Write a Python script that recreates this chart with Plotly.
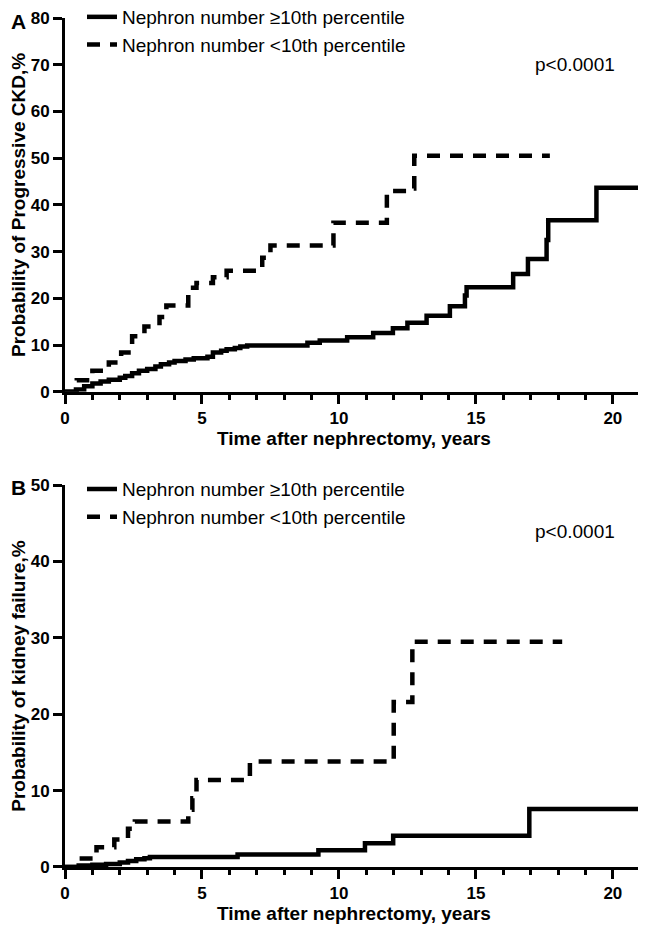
import plotly.graph_objects as go

# ---------------- data ----------------
series_names = ["Nephron number \u226510th percentile", "Nephron number <10th percentile"]

# Panel A: progressive CKD
A_hi_t = [0, 0.4, 0.7, 1.0, 1.3, 1.6, 2.0, 2.2, 2.45, 2.7, 3.0, 3.3, 3.5, 3.8, 4.0, 4.4, 4.7,
          5.2, 5.4, 5.7, 5.9, 6.2, 6.4, 6.65, 8.85, 9.3, 10.3, 11.25, 11.97, 12.5, 13.2, 14.05,
          14.6, 14.66, 16.36, 16.9, 17.58, 17.64, 19.4, 21.1]
A_hi_v = [0, 0.5, 1.2, 1.8, 2.2, 2.6, 3.0, 3.4, 4.0, 4.5, 4.9, 5.4, 5.9, 6.3, 6.6, 6.9, 7.2,
          7.5, 8.4, 8.8, 9.1, 9.4, 9.7, 9.9, 10.5, 11.0, 11.7, 12.6, 13.6, 14.8, 16.3, 18.3,
          20.6, 22.4, 25.2, 28.4, 32.5, 36.7, 43.7, 43.7]
A_lo_t = [0, 0.43, 1.0, 1.6, 2.05, 2.45, 2.9, 3.45, 3.7, 4.5, 4.8, 5.4, 5.9, 7.2, 7.5, 9.8,
          11.75, 12.5, 12.75, 17.7]
A_lo_v = [0, 2.5, 4.5, 6.3, 8.4, 11.9, 14.0, 16.0, 18.5, 22.3, 23.3, 24.5, 25.9, 28.7, 31.3,
          36.2, 43.0, 43.5, 50.5, 50.5]

# Panel B: kidney failure
B_hi_t = [0, 0.5, 1.0, 1.5, 2.0, 2.3, 2.6, 2.9, 3.1, 6.3, 9.25, 10.95, 11.98, 16.95, 21.1]
B_hi_v = [0, 0.2, 0.3, 0.4, 0.6, 0.8, 1.0, 1.15, 1.3, 1.65, 2.2, 3.1, 4.1, 7.6, 7.6]
B_lo_t = [0, 0.45, 1.15, 1.8, 2.3, 2.55, 4.5, 4.65, 4.8, 6.75, 12.0, 12.68, 18.15]
B_lo_v = [0, 1.1, 2.6, 3.6, 5.0, 5.95, 7.5, 9.0, 11.4, 13.8, 21.6, 29.5, 29.5]

x_ticks = [0, 5, 10, 15, 20]
yA_ticks = [0, 10, 20, 30, 40, 50, 60, 70, 80]
yB_ticks = [0, 10, 20, 30, 40, 50]
p_text = "p<0.0001"
x_title = "Time after nephrectomy, years"
yA_title = "Probability of Progressive CKD,%"
yB_title = "Probability of kidney failure,%"

# ---------------- figure ----------------
FONT = "Liberation Sans, Arial, Helvetica, sans-serif"
OFF = 8  # the page body adds an 8px margin around the figure
W, H = 646 - OFF, 932 - OFF
# plot area in screen pixels: x 65..643, y TOP..866.7
TOP = 18
ML = 65 - OFF
MR = W - (643 - OFF)
MT = TOP - OFF
MB = H - (866.7 - OFF)
ph = H - MT - MB
pw = W - ML - MR

def ypaper(sy):
    return (H - MB - (sy - OFF)) / ph

def xpaper(sx):
    return ((sx - OFF) - ML) / pw

LW = 4.5
DASH = "13px,10px"

fig = go.Figure()
for t, v, name, dash, xa, ya, lg in [
    (A_hi_t, A_hi_v, series_names[0], "solid", "x", "y", "legend"),
    (A_lo_t, A_lo_v, series_names[1], DASH, "x", "y", "legend"),
    (B_hi_t, B_hi_v, series_names[0], "solid", "x2", "y2", "legend2"),
    (B_lo_t, B_lo_v, series_names[1], DASH, "x2", "y2", "legend2"),
]:
    fig.add_trace(go.Scatter(x=t, y=v, mode="lines", name=name, xaxis=xa, yaxis=ya,
                             legend=lg, line=dict(color="black", width=LW, dash=dash, shape="hv")))

axis_common = dict(showgrid=False, zeroline=False, showline=True, linecolor="black",
                   linewidth=3, ticks="outside", tickcolor="black", tickwidth=3,
                   ticklabeloverflow="allow",
                   tickfont=dict(family=FONT, size=17, color="black", weight="bold"))
xaxis_common = dict(axis_common, range=[0, 21.1], tickvals=x_ticks, ticklen=9,
                    minor=dict(ticks="outside", dtick=1, ticklen=5, tickwidth=2.5, tickcolor="black"),
                    title=dict(text=x_title, font=dict(family=FONT, size=19, color="black", weight="bold"),
                               standoff=5))

leg_common = dict(xref="paper", yref="paper", xanchor="left", yanchor="top",
                  bgcolor="rgba(0,0,0,0)", font=dict(family=FONT, size=19, color="black"),
                  tracegroupgap=0)

fig.update_layout(
    width=W, height=H, margin=dict(l=ML, r=MR, t=MT, b=MB, autoexpand=False),
    paper_bgcolor="white", plot_bgcolor="white",
    font=dict(family=FONT, color="black"),
    xaxis=dict(xaxis_common, domain=[0, 1], anchor="y"),
    xaxis2=dict(xaxis_common, domain=[0, 1], anchor="y2"),
    yaxis=dict(axis_common, domain=[ypaper(391.7), 1], range=[0, 80], tickvals=yA_ticks, ticklen=9,
               anchor="x",
               title=dict(text=yA_title, font=dict(family=FONT, size=19, color="black", weight="bold"),
                          standoff=5)),
    yaxis2=dict(axis_common, domain=[0, ypaper(485)], range=[0, 50], tickvals=yB_ticks, ticklen=9,
                anchor="x2",
                title=dict(text=yB_title, font=dict(family=FONT, size=19, color="black", weight="bold"),
                           standoff=5)),
    legend=dict(leg_common, x=xpaper(82), y=ypaper(-2)),
    legend2=dict(leg_common, x=xpaper(82), y=ypaper(470)),
    showlegend=True,
)

fig.add_annotation(x=xpaper(575), y=70, xref="paper", yref="y", text=p_text, showarrow=False,
                   xanchor="center", yanchor="middle",
                   font=dict(family=FONT, size=19, color="black"))
fig.add_annotation(x=xpaper(575), y=43.9, xref="paper", yref="y2", text=p_text, showarrow=False,
                   xanchor="center", yanchor="middle",
                   font=dict(family=FONT, size=19, color="black"))
fig.add_annotation(x=xpaper(18), y=ypaper(21), xref="paper", yref="paper", text="A",
                   xanchor="center", yanchor="middle",
                   showarrow=False, font=dict(family=FONT, size=21, color="black", weight="bold"))
fig.add_annotation(x=xpaper(18), y=ypaper(487), xref="paper", yref="paper", text="B",
                   xanchor="center", yanchor="middle",
                   showarrow=False, font=dict(family=FONT, size=21, color="black", weight="bold"))

fig.write_html("out.html")
